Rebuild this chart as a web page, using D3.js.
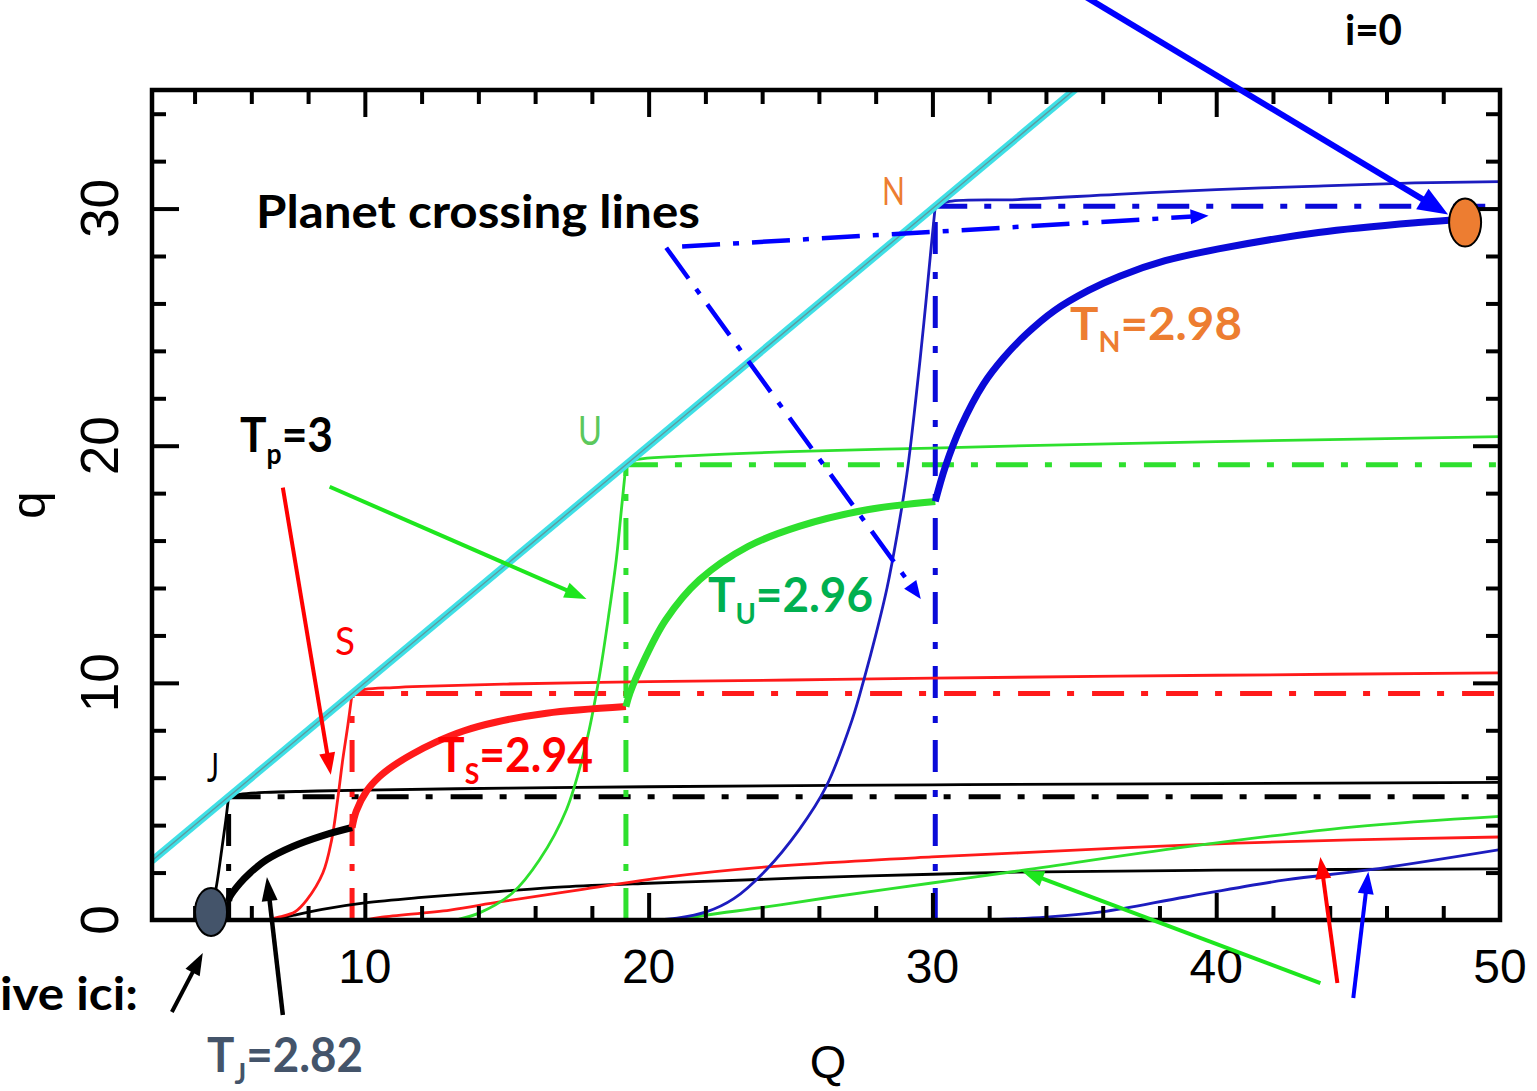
<!DOCTYPE html>
<html>
<head>
<meta charset="utf-8">
<title>Tisserand q-Q</title>
<script src="https://d3js.org/d3.v7.min.js"></script>
<style>
  body { margin: 0; background: #fff; }
</style>
</head>
<body>
<svg id="chart" width="1537" height="1091"></svg>
<script>

// planets and their semi-major axes (AU)
var planets = ['J', 'S', 'U', 'N'];
var planetA = [5.2, 9.55, 19.2, 30.1];
var planetColors = ['#000000', '#ff1a1a', '#2ee02e', '#0a0ad8'];
var thinColors = ['#000000', '#ff1a1a', '#2ee02e', '#1c1cbf'];

// axis ticks
var xMajorTicks = [10, 20, 30, 40, 50];
var yMajorTicks = [0, 10, 20, 30];
var xMinorTicks = [4, 6, 8, 12, 14, 16, 18, 22, 24, 26, 28, 32, 34, 36, 38, 42, 44, 46, 48];
var yMinorTicks = [2, 4, 6, 8, 12, 14, 16, 18, 22, 24, 26, 28, 32, 34];

// q = Q limit
var limitLine = [[2.5, 2.5], [36, 36]];

// thin curves, T_p = 3, points [Q, q]
var jupSteep = [[4.6, 0.6], [4.75, 1.3], [4.95, 2.9], [5.1, 4.2], [5.2, 5.2]];
var jupUpper = [[5.2, 5.2], [5.6, 5.3], [6.5, 5.38], [8, 5.43], [10, 5.48], [15, 5.56], [20, 5.62], [30, 5.7], [40, 5.75], [50, 5.8]];
var jupLower = [[6.8, 0], [7.5, 0.2], [8.5, 0.45], [10, 0.72], [12, 0.95], [14.7, 1.2], [17, 1.4], [20, 1.55], [22.5, 1.65], [26, 1.8], [30, 1.93], [33, 2.02], [40, 2.1], [50, 2.16]];

var satSteep = [[6.6, 0], [7.0, 0.13], [7.53, 0.34], [7.95, 0.84], [8.52, 1.98], [8.83, 3.38], [9.04, 5.06], [9.22, 6.75], [9.4, 8.2], [9.55, 9.55]];
var satUpper = [[9.55, 9.55], [10, 9.72], [11, 9.8], [12, 9.85], [15, 9.95], [20, 10.05], [25, 10.12], [30, 10.2], [40, 10.32], [50, 10.42]];
var satLower = [[10, 0], [10.6, 0.12], [13, 0.42], [14.74, 0.76], [17.56, 1.27], [20.62, 1.81], [24.14, 2.24], [29.98, 2.66], [33.04, 2.83], [38.92, 3.16], [44.76, 3.38], [50, 3.5]];

var uraSteep = [[13.2, 0], [14.04, 0.3], [15.2, 1.14], [16.15, 2.53], [17.1, 4.64], [17.8, 7.47], [18.26, 10.25], [18.62, 13.08], [18.86, 15.19], [19.04, 17.3], [19.2, 19.2]];
var uraUpper = [[19.2, 19.2], [19.6, 19.42], [21, 19.55], [25, 19.75], [30, 19.9], [35, 20.05], [40, 20.17], [50, 20.38]];
var uraLower = [[21.0, 0], [22, 0.2], [24.14, 0.55], [26.46, 0.97], [29.98, 1.56], [33.04, 2.07], [38.92, 3.08], [44.76, 3.92], [50, 4.37]];

var nepSteep = [[20.2, 0], [21, 0.08], [22.03, 0.34], [23, 0.9], [24.14, 2.11], [25.3, 3.8], [26.25, 5.61], [27.17, 8.44], [27.6, 10.2], [28.0, 12.0], [28.4, 14.0], [28.75, 16.2], [29.1, 18.8], [29.4, 21.8], [29.7, 25.2], [29.95, 28.3], [30.1, 30.1]];
var nepUpper = [[30.1, 30.1], [30.6, 30.3], [33, 30.38], [36.5, 30.6], [40, 30.8], [43.6, 30.95], [47, 31.08], [50, 31.14]];
var nepLower = [[32, 0], [34, 0.12], [35.96, 0.34], [38.92, 0.97], [42.44, 1.69], [45.36, 2.11], [50, 2.97]];

// thick curves: T_J=2.82, T_S=2.94, T_U=2.96, T_N=2.98
var tJ = [[5.2, 0.8], [5.24, 0.97], [5.6, 1.55], [5.95, 1.98], [6.55, 2.55], [7.46, 3.1], [8.52, 3.56], [9.55, 3.9]];
var tS = [[9.55, 3.9], [9.7, 4.6], [10.07, 5.45], [10.52, 6.05], [11.0, 6.5], [11.68, 7.0], [12.5, 7.5], [13.5, 7.98], [14.64, 8.35], [16.4, 8.72], [19.2, 9.0]];
var tU = [[19.2, 9.0], [19.35, 9.6], [19.8, 10.85], [20.6, 12.65], [21.8, 14.35], [23.5, 15.75], [25.3, 16.6], [27.7, 17.3], [30.1, 17.65]];
var tN = [[30.1, 17.65], [30.45, 19.1], [31.0, 20.8], [31.8, 22.6], [32.5, 23.7], [33.3, 24.7], [34.3, 25.7], [35.5, 26.55], [36.6, 27.15], [38.2, 27.8], [40.08, 28.3], [43.6, 28.99], [47.12, 29.41], [48.8, 29.55]];

var thinCurves = [jupSteep, jupUpper, jupLower, satSteep, satUpper, satLower, uraSteep, uraUpper, uraLower, nepSteep, nepUpper, nepLower];
var thickCurves = [tJ, tS, tU, tN];

var svg = d3.select('#chart');
var x = d3.scaleLinear().domain([2.5, 50]).range([152, 1500]);
var y = d3.scaleLinear().domain([0, 35]).range([920, 90]);

svg.append('rect').attr('width', 1537).attr('height', 1091).attr('fill', '#fff');

svg.append('defs').append('clipPath').attr('id', 'plot')
	.append('rect').attr('x', 152).attr('y', 90).attr('width', 1348).attr('height', 830);

var line = d3.line().x(d => x(d[0])).y(d => y(d[1])).curve(d3.curveCatmullRom.alpha(0.5));
var plot = svg.append('g').attr('clip-path', 'url(#plot)');

// planet crossing lines (dash-dot)
planetA.forEach((a, i) => {
	plot.append('path')
		.attr('d', d3.line()([[x(a), y(a)], [x(50), y(a)]]))
		.attr('stroke', planetColors[i]).attr('stroke-width', 5).attr('fill', 'none')
		.attr('stroke-dasharray', '32,17,7,18');
	plot.append('path')
		.attr('d', d3.line()([[x(a), y(0)], [x(a), y(a)]]))
		.attr('stroke', planetColors[i]).attr('stroke-width', 5).attr('fill', 'none')
		.attr('stroke-dasharray', '32,17,7,18');
});

// T = 3 curves
thinCurves.forEach((c, i) => {
	plot.append('path').attr('d', line(c))
		.attr('stroke', thinColors[Math.floor(i / 3)]).attr('stroke-width', 2.8).attr('fill', 'none');
});

// thick curves
thickCurves.forEach((c, i) => {
	plot.append('path').attr('d', line(c))
		.attr('stroke', planetColors[i]).attr('stroke-width', 7).attr('fill', 'none')
		.attr('stroke-linecap', 'butt');
});

// q = Q line
plot.append('path').attr('d', d3.line().x(d => x(d[0])).y(d => y(d[1]))(limitLine))
	.attr('stroke', '#3ee0e6').attr('stroke-width', 7.5).attr('fill', 'none');
plot.append('path').attr('d', d3.line().x(d => x(d[0])).y(d => y(d[1]))(limitLine))
	.attr('stroke', '#5e9aa0').attr('stroke-width', 1.4).attr('fill', 'none');

// ticks on all sides, pointing inward
function ticks(axisFn, values, size, transform) {
	var scale = (axisFn === d3.axisBottom || axisFn === d3.axisTop) ? x : y;
	var g = svg.append('g').attr('transform', transform)
		.call(axisFn(scale).tickValues(values).tickSize(-size).tickFormat(''));
	g.select('.domain').remove();
	g.selectAll('line').attr('stroke', '#000').attr('stroke-width', 4);
}
var xMaj = xMajorTicks.filter(v => v < 50);
var yMaj = yMajorTicks.filter(v => v > 0);
ticks(d3.axisBottom, xMinorTicks, 14, 'translate(0,920)');
ticks(d3.axisBottom, xMaj, 27, 'translate(0,920)');
ticks(d3.axisTop, xMinorTicks, 14, 'translate(0,90)');
ticks(d3.axisTop, xMaj, 27, 'translate(0,90)');
ticks(d3.axisLeft, yMinorTicks, 14, 'translate(152,0)');
ticks(d3.axisLeft, yMaj, 27, 'translate(152,0)');
ticks(d3.axisRight, yMinorTicks, 14, 'translate(1500,0)');
ticks(d3.axisRight, yMaj, 27, 'translate(1500,0)');

svg.append('rect').attr('x', 152).attr('y', 90).attr('width', 1348).attr('height', 830)
	.attr('fill', 'none').attr('stroke', '#000').attr('stroke-width', 4.5);

// tick labels
svg.selectAll('.xlab').data(xMajorTicks).enter().append('text')
	.attr('x', d => x(d)).attr('y', 983)
	.attr('text-anchor', 'middle').attr('font-family', 'Liberation Sans, Arial, sans-serif')
	.attr('font-size', 48).text(d => d);
svg.selectAll('.ylab').data(yMajorTicks).enter().append('text')
	.attr('transform', d => 'translate(118,' + y(d) + ') rotate(-90)')
	.attr('text-anchor', 'middle').attr('font-family', 'Liberation Sans, Arial, sans-serif')
	.attr('font-size', 53).text(d => d);

svg.append('text').attr('x', 828).attr('y', 1078).attr('text-anchor', 'middle')
	.attr('font-family', 'Liberation Sans, Arial, sans-serif').attr('font-size', 47).text('Q');
svg.append('text').attr('transform', 'translate(45,505) rotate(-90)').attr('text-anchor', 'middle')
	.attr('font-family', 'Liberation Sans, Arial, sans-serif').attr('font-size', 49).text('q');

// arrows
function arrow(p1, p2, color, width, headLen, headW, dash) {
	var x1 = x(p1[0]), y1 = y(p1[1]), x2 = x(p2[0]), y2 = y(p2[1]);
	var dx = x2 - x1, dy = y2 - y1, len = Math.sqrt(dx * dx + dy * dy);
	var ux = dx / len, uy = dy / len;
	var bx = x2 - ux * headLen, by = y2 - uy * headLen;
	var l = svg.append('line').attr('x1', x1).attr('y1', y1).attr('x2', bx + ux * 2).attr('y2', by + uy * 2)
		.attr('stroke', color).attr('stroke-width', width);
	if (dash) l.attr('stroke-dasharray', dash);
	svg.append('path')
		.attr('d', 'M' + x2 + ',' + y2 + 'L' + (bx - uy * headW / 2) + ',' + (by + ux * headW / 2) +
			'L' + (bx + uy * headW / 2) + ',' + (by - ux * headW / 2) + 'Z')
		.attr('fill', color);
}

arrow([21.18, 28.40], [39.73, 29.70], '#0000ff', 4.5, 18, 15, '38,13,6,13');
arrow([20.62, 28.35], [29.59, 13.54], '#0000ff', 4.5, 18, 15, '38,13,6,13');
arrow([35.3, 39.0], [48.17, 29.75], '#0000ff', 6, 30, 24);
arrow([7.11, 18.23], [8.80, 6.12], '#ff0000', 4, 22, 16);
arrow([8.76, 18.27], [17.81, 13.54], '#1ee61e', 4, 22, 16);
arrow([3.20, -3.88], [4.29, -1.39], '#000', 4, 22, 16);
arrow([7.11, -4.01], [6.55, 1.81], '#000', 4.5, 24, 16);
arrow([43.67, -2.66], [33.15, 2.07], '#1ee61e', 4, 22, 16);
arrow([44.27, -2.66], [43.67, 2.66], '#ff0000', 4, 22, 16);
arrow([44.83, -3.29], [45.36, 2.03], '#0000ff', 4, 22, 16);

// object positions
svg.append('ellipse').attr('cx', x(48.77)).attr('cy', y(29.41)).attr('rx', 16).attr('ry', 24)
	.attr('fill', '#ed7d31').attr('stroke', '#000').attr('stroke-width', 2);
svg.append('ellipse').attr('cx', x(4.58)).attr('cy', y(0.34)).attr('rx', 16).attr('ry', 24)
	.attr('fill', '#44546a').attr('stroke', '#000').attr('stroke-width', 2);

// annotation text, squeezed to the width seen in the figure
function label(px, py, main, sub, rest, color, size, width, weight) {
	var t = svg.append('text').attr('x', 0).attr('y', 0).attr('fill', color)
		.attr('font-family', 'Lato, "Open Sans", sans-serif')
		.attr('font-weight', weight || 'bold').attr('font-size', size);
	t.append('tspan').text(main);
	if (sub) {
		t.append('tspan').attr('dy', size * 0.25).attr('font-size', size * 0.6).text(sub);
		t.append('tspan').attr('dy', -size * 0.25).text(rest);
	}
	var k = width ? width / t.node().getBBox().width : 1;
	t.attr('transform', 'translate(' + px + ',' + py + ') scale(' + k + ',1)');
}

label(256, 228, 'Planet crossing lines', null, null, '#000', 46, 444);
label(1345, 45, 'i=0', null, null, '#000', 42, 57);
label(882, 205, 'N', null, null, '#ed7d31', 39, 23, 'normal');
label(578, 445, 'U', null, null, '#5cc85c', 41, 24, 'normal');
label(335, 655, 'S', null, null, '#ff0000', 39, 20, 'normal');
label(207, 782, 'J', null, null, '#000', 41, 12, 'normal');
label(240, 452, 'T', 'p', '=3', '#000', 48, 93);
label(708, 612, 'T', 'U', '=2.96', '#00b050', 48, 165);
label(438, 772, 'T', 'S', '=2.94', '#ff0000', 48, 155);
label(1070, 340, 'T', 'N', '=2.98', '#ed7d31', 46, 172);
label(207, 1072, 'T', 'J', '=2.82', '#44546a', 47, 156);
label(0, 1010, 'ive ici:', null, null, '#000', 46, 138);

</script>
</body>
</html>
